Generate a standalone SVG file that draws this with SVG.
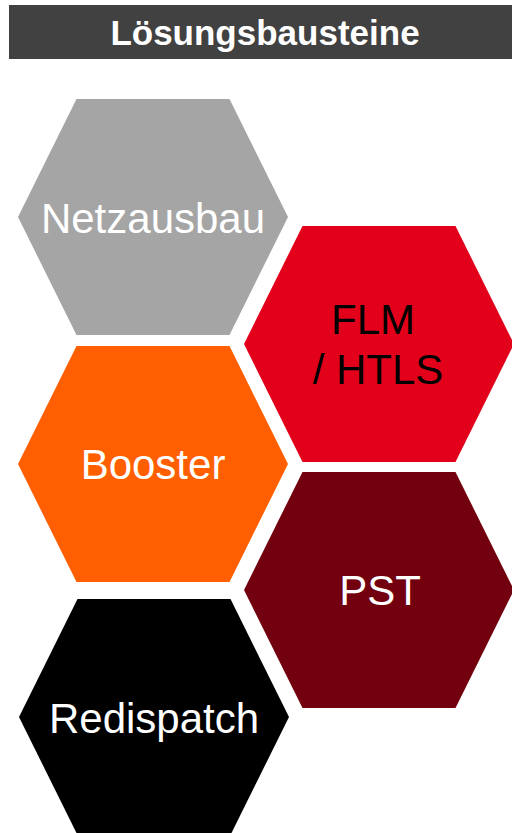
<svg xmlns="http://www.w3.org/2000/svg" xmlns:xlink="http://www.w3.org/1999/xlink" width="512" height="833" viewBox="0 0 512 833">
  <defs>
    <polygon id="hex" points="-135,0 -76.5,-118 76.5,-118 135,0 76.5,118 -76.5,118"/>
    <style>
      .lbl { font-family: "Liberation Sans", Arial, sans-serif; font-size: 42px; text-anchor: middle; }
      .title { font-family: "Liberation Sans", Arial, sans-serif; font-size: 35px; font-weight: bold; fill: #ffffff; text-anchor: middle; }
    </style>
  </defs>
  <rect width="512" height="833" fill="#ffffff"/>

  <!-- header bar -->
  <g id="header">
    <rect x="9" y="5" width="503" height="54" fill="#414141"/>
    <text class="title" x="265" y="45">Lösungsbausteine</text>
  </g>

  <g id="netzausbau" transform="translate(153,217)">
    <use xlink:href="#hex" fill="#a5a5a5"/>
    <text class="lbl" x="0" y="16" fill="#ffffff">Netzausbau</text>
  </g>

  <g id="flm-htls" transform="translate(379,344)">
    <use xlink:href="#hex" fill="#e2001a"/>
    <text class="lbl" x="-6" y="-10" fill="#000000">FLM</text>
    <text class="lbl" x="-1" y="40" fill="#000000">/ HTLS</text>
  </g>

  <g id="booster" transform="translate(153,464)">
    <use xlink:href="#hex" fill="#ff5f00"/>
    <text class="lbl" x="0" y="15" fill="#ffffff">Booster</text>
  </g>

  <g id="pst" transform="translate(379,590)">
    <use xlink:href="#hex" fill="#72000e"/>
    <text class="lbl" x="1" y="15" fill="#ffffff">PST</text>
  </g>

  <g id="redispatch" transform="translate(154,717)">
    <use xlink:href="#hex" fill="#000000"/>
    <text class="lbl" x="0" y="16" fill="#ffffff">Redispatch</text>
  </g>

  <g id="connectors"/>
</svg>
